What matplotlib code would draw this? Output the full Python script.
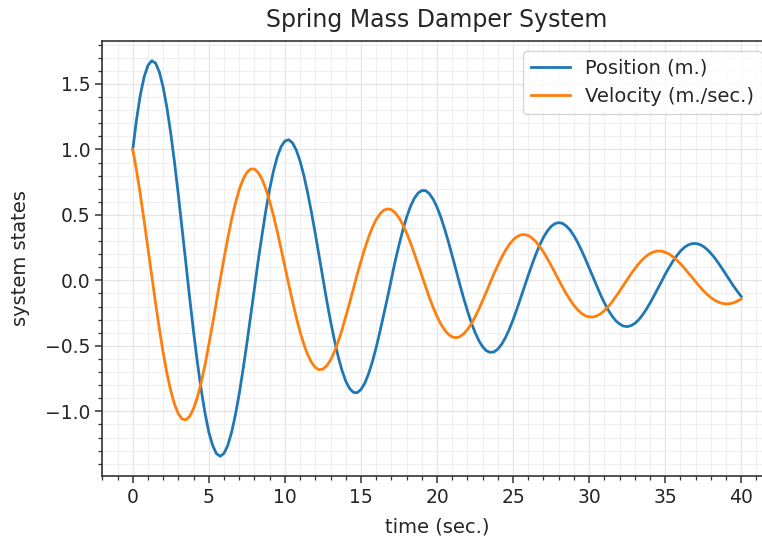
import numpy as np
import matplotlib
matplotlib.use("Agg")
import matplotlib.pyplot as plt

# time samples (sec.), every 0.25 s
time = np.arange(0, 40.25, 0.25)

position = [
    1.000, 1.230, 1.417, 1.555, 1.642, 1.677, 1.659, 1.590,
    1.474, 1.316, 1.121, 0.896, 0.649, 0.389, 0.123, -0.143,
    -0.394, -0.628, -0.837, -1.014, -1.160, -1.260, -1.323, -1.343,
    -1.321, -1.259, -1.159, -1.026, -0.865, -0.681, -0.482, -0.273,
    -0.061, 0.154, 0.348, 0.535, 0.698, 0.835, 0.944, 1.021,
    1.064, 1.074, 1.050, 0.995, 0.910, 0.800, 0.667, 0.517,
    0.356, 0.186, 0.016, -0.154, -0.310, -0.453, -0.580, -0.686,
    -0.769, -0.825, -0.855, -0.858, -0.834, -0.786, -0.714, -0.622,
    -0.513, -0.391, -0.260, -0.129, 0.011, 0.147, 0.269, 0.382,
    0.481, 0.563, 0.625, 0.666, 0.686, 0.685, 0.662, 0.619,
    0.559, 0.483, 0.393, 0.294, 0.188, 0.080, -0.031, -0.136,
    -0.232, -0.321, -0.397, -0.460, -0.507, -0.538, -0.550, -0.546,
    -0.525, -0.488, -0.437, -0.374, -0.301, -0.220, -0.135, -0.048,
    0.039, 0.122, 0.200, 0.269, 0.329, 0.376, 0.412, 0.433,
    0.441, 0.435, 0.415, 0.384, 0.341, 0.289, 0.229, 0.164,
    0.095, 0.026, -0.044, -0.110, -0.171, -0.225, -0.271, -0.308,
    -0.333, -0.349, -0.353, -0.346, -0.329, -0.302, -0.266, -0.223,
    -0.174, -0.121, -0.066, -0.011, 0.046, 0.097, 0.145, 0.187,
    0.223, 0.251, 0.270, 0.280, 0.282, 0.275, 0.260, 0.237,
    0.207, 0.172, 0.132, 0.089, 0.044, 0.000, -0.045, -0.085,
    -0.123,
]

velocity = [
    1.000, 0.837, 0.653, 0.453, 0.244, 0.032, -0.175, -0.372,
    -0.552, -0.711, -0.844, -0.948, -1.020, -1.059, -1.065, -1.037,
    -0.978, -0.891, -0.778, -0.646, -0.491, -0.333, -0.162, 0.007,
    0.169, 0.324, 0.467, 0.590, 0.693, 0.772, 0.824, 0.850,
    0.850, 0.823, 0.772, 0.698, 0.604, 0.494, 0.372, 0.241,
    0.106, -0.029, -0.159, -0.282, -0.393, -0.489, -0.567, -0.627,
    -0.665, -0.682, -0.678, -0.652, -0.609, -0.546, -0.468, -0.380,
    -0.278, -0.174, -0.065, 0.044, 0.145, 0.242, 0.329, 0.404,
    0.464, 0.508, 0.536, 0.546, 0.540, 0.516, 0.479, 0.426,
    0.362, 0.289, 0.208, 0.123, 0.036, -0.049, -0.132, -0.208,
    -0.275, -0.333, -0.379, -0.412, -0.432, -0.438, -0.430, -0.409,
    -0.376, -0.333, -0.280, -0.220, -0.154, -0.086, -0.016, 0.053,
    0.116, 0.176, 0.229, 0.274, 0.309, 0.334, 0.347, 0.350,
    0.342, 0.323, 0.295, 0.259, 0.216, 0.167, 0.114, 0.059,
    0.003, -0.051, -0.103, -0.149, -0.191, -0.225, -0.252, -0.270,
    -0.279, -0.280, -0.271, -0.255, -0.232, -0.201, -0.166, -0.125,
    -0.083, -0.038, 0.006, 0.049, 0.089, 0.126, 0.158, 0.184,
    0.205, 0.218, 0.224, 0.223, 0.215, 0.201, 0.181, 0.156,
    0.127, 0.095, 0.060, 0.025, -0.011, -0.045, -0.077, -0.106,
    -0.131, -0.151, -0.166, -0.176, -0.180, -0.178, -0.171, -0.158,
    -0.142,
]

series_labels = ["Position (m.)", "Velocity (m./sec.)"]

fig = plt.figure(figsize=(7.62, 5.40), dpi=100)
ax = fig.add_axes([0.1343, 0.1185, 0.8784, 0.8056])

ax.plot(time, position, color="#1f77b4", lw=2.0, label=series_labels[0])
ax.plot(time, velocity, color="#ff7f0e", lw=2.0, label=series_labels[1])

ax.minorticks_on()
ax.grid(which="major", color="#e4e4e4", lw=0.9)
ax.grid(which="minor", color="#efefef", lw=0.8)
ax.set_axisbelow(True)

for s in ["left", "bottom", "top", "right"]:
    ax.spines[s].set_linewidth(1.2)
    ax.spines[s].set_color("#333333")

ax.tick_params(which="major", length=5, width=1.1, labelsize=13.5, colors="#333333")
ax.tick_params(which="minor", length=3, width=0.9, colors="#333333")
for lab in ax.get_xticklabels() + ax.get_yticklabels():
    lab.set_color("#262626")

ax.set_title("Spring Mass Damper System", fontsize=17, color="#262626", pad=10)
ax.set_xlabel("time (sec.)", fontsize=14, color="#262626", labelpad=8)
ax.set_ylabel("system states", fontsize=14, color="#262626", labelpad=11)

leg = ax.legend(loc="upper right", fontsize=14, frameon=True, handlelength=2.0)
leg.get_frame().set_edgecolor("#cccccc")
for t in leg.get_texts():
    t.set_color("#262626")

fig.savefig("out.png", dpi=100)
